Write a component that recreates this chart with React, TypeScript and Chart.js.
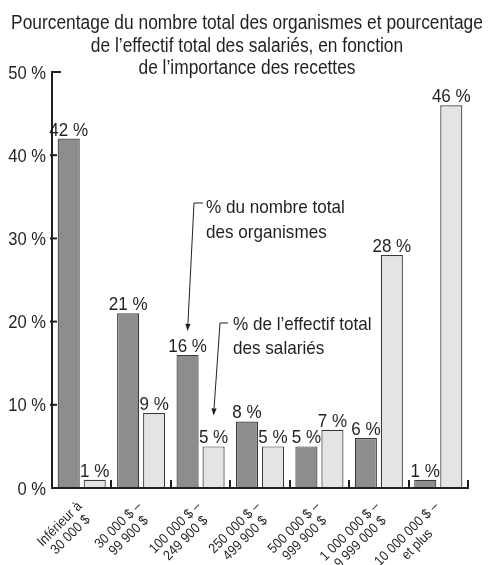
import React, { useEffect, useRef } from 'react';
import { Chart, registerables } from 'chart.js';

Chart.register(...registerables);

const categories: string[][] = [
  ['Inférieur à', '30 000 $'],
  ['30 000 $ –', '99 900 $'],
  ['100 000 $ –', '249 900 $'],
  ['250 000 $ –', '499 900 $'],
  ['500 000 $ –', '999 900 $'],
  ['1 000 000 $ –', '9 999 000 $'],
  ['10 000 000 $ –', 'et plus'],
];
const organismes = [42, 21, 16, 8, 5, 6, 1];
const salaries = [1, 9, 5, 5, 7, 28, 46];
const yTickValues = [0, 10, 20, 30, 40, 50];
const yTickLabels = ['0 %', '10 %', '20 %', '30 %', '40 %', '50 %'];
const titleLines = [
  'Pourcentage du nombre total des organismes et pourcentage',
  'de l’effectif total des salariés, en fonction',
  'de l’importance des recettes',
];
const noteOrganismes = ['% du nombre total', 'des organismes'];
const noteSalaries = ['% de l’effectif total', 'des salariés'];

const FONT = '"Liberation Sans", Arial, sans-serif';
const INK = '#231f20';

function txt(ctx: CanvasRenderingContext2D, s: string, x: number, y: number, size: number, sx: number, align: CanvasTextAlign) {
  ctx.save();
  ctx.font = `${size}px ${FONT}`;
  ctx.fillStyle = INK;
  ctx.translate(x, y);
  ctx.scale(sx, 1);
  ctx.textAlign = align;
  ctx.textBaseline = 'alphabetic';
  ctx.fillText(s, 0, 0);
  ctx.restore();
}

function seg(ctx: CanvasRenderingContext2D, pts: number[][], w: number) {
  ctx.save();
  ctx.strokeStyle = INK;
  ctx.lineWidth = w;
  ctx.beginPath();
  ctx.moveTo(pts[0][0], pts[0][1]);
  for (let i = 1; i < pts.length; i++) ctx.lineTo(pts[i][0], pts[i][1]);
  ctx.stroke();
  ctx.restore();
}

function arrow(ctx: CanvasRenderingContext2D, pts: number[][]) {
  const n = pts.length;
  const [tx, ty] = pts[n - 1];
  const [px, py] = pts[n - 2];
  const a = Math.atan2(ty - py, tx - px);
  const len = 7;
  const half = 2.6;
  const bx = tx - len * Math.cos(a);
  const by = ty - len * Math.sin(a);
  seg(ctx, [...pts.slice(0, n - 1), [bx, by]], 1);
  ctx.save();
  ctx.fillStyle = INK;
  ctx.beginPath();
  ctx.moveTo(tx, ty);
  ctx.lineTo(bx + half * Math.sin(a), by - half * Math.cos(a));
  ctx.lineTo(bx - half * Math.sin(a), by + half * Math.cos(a));
  ctx.closePath();
  ctx.fill();
  ctx.restore();
}

const decorPlugin = {
  id: 'decor',
  afterDraw(chart: any) {
    const ctx: CanvasRenderingContext2D = chart.ctx;
    const xs = chart.scales.x;
    const ys = chart.scales.y;
    const area = chart.chartArea;
    const left = area.left;
    const right = area.right;
    const bottom = ys.getPixelForValue(0);
    const top = ys.getPixelForValue(50);

    // title
    titleLines.forEach((l, i) => txt(ctx, l, 247, 29 + i * 22.5, 19.5, 0.89, 'center'));

    // axes
    seg(ctx, [[left, top - 1], [left, bottom + 1]], 2);
    seg(ctx, [[left - 1, top], [left + 9, top]], 2);
    yTickValues.forEach((v) => {
      if (v === 0 || v === 50) return;
      const py = ys.getPixelForValue(v);
      seg(ctx, [[left - 2, py], [left + 5, py]], 2);
    });
    seg(ctx, [[left - 1, bottom], [right + 1, bottom]], 2);
    const step = (right - left) / categories.length;
    for (let i = 1; i <= categories.length; i++) {
      const bx = Math.round(left + i * step);
      seg(ctx, [[bx, bottom], [bx, bottom - 8]], 2);
    }

    // y tick labels
    yTickValues.forEach((v, i) => {
      const py = ys.getPixelForValue(v);
      txt(ctx, yTickLabels[i], left - 6, py + 6.5, 18, 0.92, 'right');
    });

    // x labels, rotated 45°, lines centred
    categories.forEach((lines, i) => {
      const cx = xs.getPixelForValue(i);
      ctx.save();
      ctx.font = `14px ${FONT}`;
      const sx = 0.9;
      const widths = lines.map((l) => ctx.measureText(l).width * sx);
      const maxW = Math.max(...widths);
      ctx.translate(cx + 1, bottom + 19);
      ctx.rotate(-Math.PI / 4);
      lines.forEach((l, j) => {
        txt(ctx, l, -maxW / 2, j * 15, 14, sx, 'center');
      });
      ctx.restore();
    });

    // data labels
    [organismes, salaries].forEach((vals, d) => {
      const meta = chart.getDatasetMeta(d);
      meta.data.forEach((el: any, i: number) => {
        txt(ctx, `${vals[i]} %`, el.x, el.y - 3, 18.5, 0.92, 'center');
      });
    });

    // annotations
    const o = chart.getDatasetMeta(0).data[2];
    const s = chart.getDatasetMeta(1).data[2];
    txt(ctx, noteOrganismes[0], 206, 213, 19, 0.9, 'left');
    txt(ctx, noteOrganismes[1], 206, 238, 19, 0.9, 'left');
    arrow(ctx, [[203, 203], [194, 203], [o.x, o.y - 24]]);
    txt(ctx, noteSalaries[0], 233, 330, 19, 0.9, 'left');
    txt(ctx, noteSalaries[1], 233, 354, 19, 0.9, 'left');
    arrow(ctx, [[228, 323], [220, 323], [s.x, s.y - 31]]);
  },
};

export default function App() {
  const ref = useRef<HTMLCanvasElement>(null);
  useEffect(() => {
    document.body.style.margin = '0';
    const chart = new Chart(ref.current!, {
      type: 'bar',
      data: {
        labels: categories.map((c) => c.join(' ')),
        datasets: [
          {
            label: '% du nombre total des organismes',
            data: organismes,
            backgroundColor: '#8d8d8f',
            borderColor: '#3a3a3a',
            borderWidth: 1.2,
            categoryPercentage: 0.875,
            barPercentage: 0.85,
          },
          {
            label: '% de l’effectif total des salariés',
            data: salaries,
            backgroundColor: '#e4e4e6',
            borderColor: '#3a3a3a',
            borderWidth: 1.2,
            categoryPercentage: 0.875,
            barPercentage: 0.85,
          },
        ],
      },
      options: {
        responsive: false,
        animation: false,
        devicePixelRatio: 1,
        layout: { padding: { top: 72, right: 21, left: 0, bottom: 0 } },
        plugins: { legend: { display: false }, tooltip: { enabled: false }, title: { display: false } },
        scales: {
          x: {
            grid: { display: false },
            border: { display: false },
            ticks: { display: false },
            afterFit: (s: any) => { s.height = 77; },
          },
          y: {
            min: 0,
            max: 50,
            grid: { display: false },
            border: { display: false },
            ticks: { display: false, stepSize: 10 },
            afterFit: (s: any) => { s.width = 52; },
          },
        },
      },
      plugins: [decorPlugin],
    });
    return () => chart.destroy();
  }, []);
  return <canvas ref={ref} width={489} height={565} style={{ display: 'block' }} />;
}
